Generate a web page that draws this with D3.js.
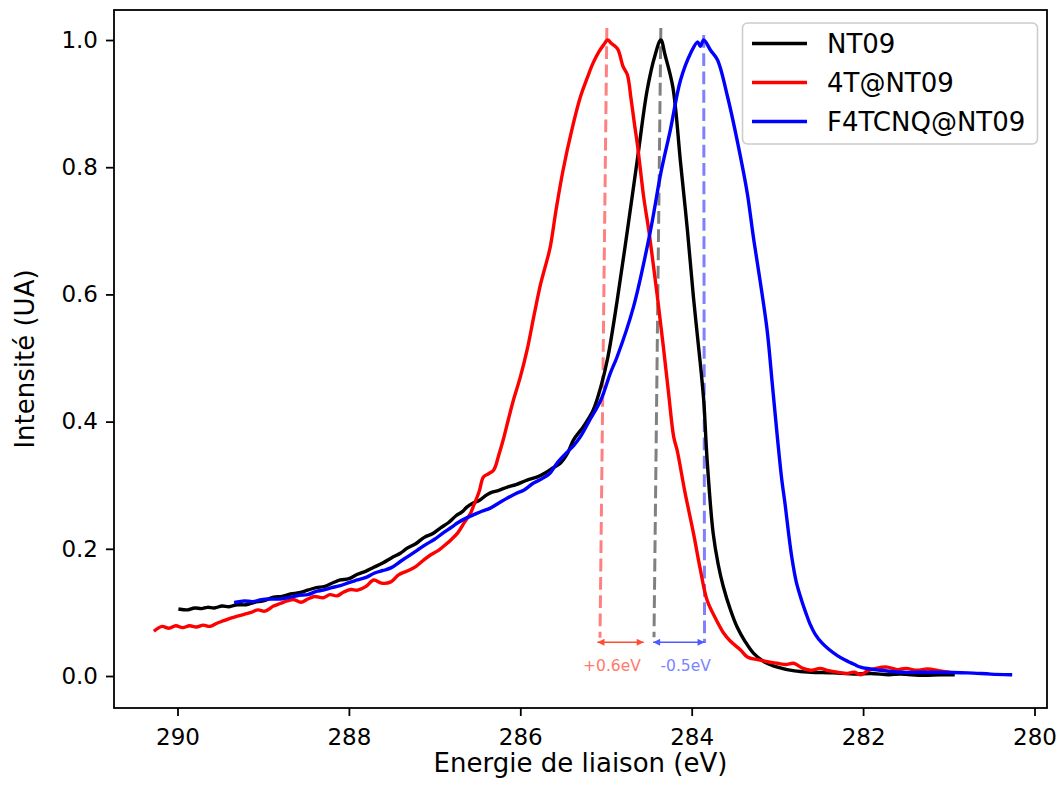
<!DOCTYPE html>
<html><head><meta charset="utf-8">
<script src="https://cdn.jsdelivr.net/npm/d3@7"></script>
<style>body{margin:0;background:#fff}text{font-family:"DejaVu Sans",sans-serif}</style>
</head><body><svg id="c" width="1062" height="789"></svg>
<script>
// ---- data ----
const xTicks = [290, 288, 286, 284, 282, 280];
const yTicks = [0.0, 0.2, 0.4, 0.6, 0.8, 1.0];
const seriesNames = ["NT09", "4T@NT09", "F4TCNQ@NT09"];
const seriesColors = ["#000000", "#ff0000", "#0000ff"];

const nt09E = [289.97,289.88,289.80,289.72,289.65,289.57,289.48,289.40,289.30,289.20,289.10,289.00,288.88,288.78,288.68,288.58,288.48,288.38,288.28,288.18,288.10,288.00,287.90,287.80,287.71,287.60,287.50,287.40,287.32,287.22,287.12,287.02,286.93,286.84,286.75,286.68,286.62,286.55,286.48,286.40,286.35,286.25,286.15,286.05,285.92,285.80,285.70,285.62,285.53,285.45,285.38,285.26,285.15,285.06,284.98,284.87,284.75,284.63,284.52,284.43,284.36,284.31,284.22,284.13,284.05,283.98,283.90,283.86,283.82,283.75,283.69,283.63,283.55,283.47,283.38,283.28,283.15,283.00,282.80,282.61,282.35,282.10,281.91,281.70,281.56,281.30,281.10,280.95];
const nt09I = [0.105,0.104,0.107,0.106,0.108,0.107,0.110,0.109,0.112,0.112,0.116,0.118,0.124,0.125,0.129,0.131,0.135,0.139,0.141,0.147,0.151,0.153,0.160,0.165,0.171,0.178,0.186,0.193,0.201,0.208,0.218,0.224,0.233,0.241,0.252,0.258,0.266,0.272,0.276,0.284,0.288,0.292,0.297,0.301,0.308,0.313,0.320,0.327,0.335,0.350,0.371,0.393,0.418,0.455,0.500,0.590,0.701,0.816,0.921,0.975,1.000,0.976,0.926,0.807,0.701,0.596,0.492,0.434,0.340,0.225,0.175,0.140,0.105,0.077,0.055,0.036,0.022,0.014,0.008,0.006,0.005,0.003,0.004,0.002,0.003,0.001,0.002,0.002];

const t4E = [290.26,290.18,290.10,290.02,289.94,289.86,289.78,289.70,289.62,289.54,289.46,289.38,289.30,289.22,289.14,289.06,288.98,288.88,288.80,288.72,288.64,288.56,288.48,288.40,288.30,288.22,288.14,288.06,287.98,287.90,287.80,287.71,287.62,287.51,287.42,287.32,287.22,287.13,287.04,286.95,286.86,286.81,286.73,286.65,286.58,286.55,286.48,286.43,286.37,286.31,286.25,286.20,286.14,286.08,286.00,285.92,285.84,285.76,285.70,285.65,285.58,285.50,285.40,285.30,285.22,285.15,285.08,285.03,284.98,284.94,284.91,284.86,284.80,284.75,284.71,284.67,284.63,284.56,284.50,284.45,284.39,284.33,284.27,284.21,284.17,284.08,283.98,283.90,283.82,283.72,283.63,283.55,283.43,283.35,283.20,283.10,283.00,282.90,282.81,282.70,282.61,282.50,282.42,282.30,282.20,282.10,282.03,281.95,281.85,281.72,281.60,281.50,281.37,281.25,281.10,281.00];
const t4I = [0.072,0.078,0.075,0.079,0.076,0.079,0.077,0.080,0.078,0.083,0.087,0.091,0.094,0.097,0.100,0.104,0.102,0.110,0.114,0.118,0.120,0.116,0.121,0.125,0.123,0.128,0.126,0.132,0.136,0.135,0.141,0.151,0.146,0.148,0.159,0.165,0.172,0.182,0.191,0.198,0.208,0.214,0.225,0.242,0.256,0.266,0.290,0.313,0.318,0.324,0.348,0.371,0.403,0.434,0.470,0.513,0.567,0.618,0.648,0.675,0.735,0.796,0.858,0.910,0.940,0.964,0.982,0.992,1.000,0.995,0.992,0.985,0.958,0.945,0.910,0.870,0.832,0.753,0.700,0.649,0.585,0.517,0.445,0.376,0.355,0.290,0.225,0.168,0.119,0.090,0.068,0.055,0.041,0.030,0.025,0.022,0.020,0.018,0.020,0.012,0.009,0.012,0.009,0.006,0.004,0.006,0.002,0.008,0.012,0.014,0.010,0.012,0.009,0.011,0.008,0.006];

const f4E = [289.32,289.22,289.12,289.02,288.92,288.80,288.68,288.58,288.48,288.38,288.30,288.20,288.10,288.00,287.90,287.80,287.70,287.60,287.51,287.40,287.30,287.20,287.10,287.00,286.90,286.80,286.73,286.62,286.52,286.45,286.35,286.25,286.15,286.05,285.96,285.85,285.75,285.66,285.57,285.46,285.38,285.30,285.20,285.06,284.95,284.87,284.68,284.48,284.36,284.25,284.13,284.01,283.93,283.90,283.86,283.78,283.70,283.58,283.43,283.35,283.28,283.20,283.12,283.06,283.00,282.95,282.91,282.87,282.83,282.78,282.72,282.67,282.62,282.56,282.48,282.40,282.30,282.21,282.10,282.03,281.80,281.56,281.21,280.78,280.51,280.28];
const f4I = [0.116,0.118,0.117,0.120,0.121,0.121,0.124,0.127,0.128,0.133,0.135,0.139,0.142,0.147,0.151,0.155,0.162,0.166,0.170,0.180,0.189,0.198,0.207,0.215,0.225,0.234,0.241,0.249,0.255,0.259,0.264,0.272,0.280,0.287,0.292,0.303,0.310,0.318,0.335,0.351,0.362,0.376,0.400,0.434,0.476,0.502,0.580,0.701,0.791,0.858,0.937,0.980,0.997,0.990,1.000,0.984,0.969,0.910,0.816,0.758,0.690,0.620,0.544,0.460,0.375,0.310,0.270,0.225,0.185,0.148,0.120,0.100,0.082,0.066,0.052,0.042,0.032,0.025,0.018,0.014,0.009,0.006,0.006,0.005,0.003,0.002];

// peak marker dashed lines [E_top, I_top, E_bottom, I_bottom]
const peakLines = [[284.99, 1.019, 285.07, 0.060], [284.36, 1.019, 284.44, 0.061], [283.86, 1.008, 283.85, 0.052]];
const peakColors = ["#ff8080", "#808080", "#8080ff"];
// shift arrows [E_from, E_to, I]
const shiftArrows = [[285.10, 284.56, 0.053], [284.45, 283.85, 0.053]];
const shiftLabels = ["+0.6eV", "-0.5eV"];
const shiftLabelE = [284.93, 284.07];
const shiftLabelI = 0.015;
const arrowColors = ["#ff4d33", "#4d5cff"];
const labelColors = ["#ff7a6a", "#7a85ff"];

// ---- chart ----
const L = 114, R = 1047, T = 10, B = 708;
const svg = d3.select("#c");
const x = d3.scaleLinear().domain([290.741, 279.854]).range([L, R]);
const y = d3.scaleLinear().domain([-0.0503, 1.0472]).range([B, T]);

const defs = svg.append("defs");
defs.append("clipPath").attr("id","clip").append("rect")
  .attr("x", L).attr("y", T).attr("width", R-L).attr("height", B-T);
arrowColors.forEach((c,i)=>{
  defs.append("marker").attr("id","ah"+i).attr("viewBox","0 0 10 10").attr("refX",10).attr("refY",5)
    .attr("markerWidth",9).attr("markerHeight",7).attr("markerUnits","userSpaceOnUse").attr("orient","auto-start-reverse")
    .append("path").attr("d","M0,0L10,5L0,10Z").attr("fill",c);
});

const g = svg.append("g").attr("clip-path","url(#clip)");

peakLines.forEach((p,i)=>{
  g.append("line").attr("x1",x(p[0])).attr("y1",y(p[1])).attr("x2",x(p[2])).attr("y2",y(p[3]))
   .attr("stroke",peakColors[i]).attr("stroke-width",3).attr("stroke-dasharray","12.8,5.5");
});

shiftArrows.forEach((a,i)=>{
  g.append("line").attr("x1",x(a[0])).attr("y1",y(a[2])).attr("x2",x(a[1])).attr("y2",y(a[2]))
   .attr("stroke",arrowColors[i]).attr("stroke-width",1.6)
   .attr("marker-start","url(#ah"+i+")").attr("marker-end","url(#ah"+i+")");
  g.append("text").attr("x",x(shiftLabelE[i])).attr("y",y(shiftLabelI)).attr("text-anchor","middle")
   .attr("dominant-baseline","middle").attr("font-size",15.5).attr("fill",labelColors[i]).text(shiftLabels[i]);
});

const line = d3.line().x(d=>x(d[0])).y(d=>y(d[1])).curve(d3.curveCatmullRom.alpha(0.5));
const series = [d3.zip(nt09E, nt09I), d3.zip(t4E, t4I), d3.zip(f4E, f4I)];
series.forEach((s,i)=>{
  g.append("path").datum(s).attr("d",line).attr("fill","none").attr("stroke",seriesColors[i])
   .attr("stroke-width",3.4).attr("stroke-linejoin","round").attr("stroke-linecap","square");
});

const xa = svg.append("g").attr("transform",`translate(0,${B})`)
  .call(d3.axisBottom(x).tickValues(xTicks).tickFormat(d3.format("d")).tickSize(8).tickPadding(13));
const ya = svg.append("g").attr("transform",`translate(${L},0)`)
  .call(d3.axisLeft(y).tickValues(yTicks).tickFormat(d3.format(".1f")).tickSize(8).tickPadding(8));
[xa,ya].forEach(a=>{
  a.select(".domain").remove();
  a.selectAll(".tick line").attr("stroke","#000").attr("stroke-width",1.8);
  a.selectAll(".tick text").attr("font-size",23).attr("fill","#000").attr("font-family","DejaVu Sans");
});
svg.append("rect").attr("x",L).attr("y",T).attr("width",R-L).attr("height",B-T)
  .attr("fill","none").attr("stroke","#000").attr("stroke-width",1.8);

svg.append("text").attr("x",(L+R)/2).attr("y",772).attr("text-anchor","middle").attr("font-size",26)
  .attr("fill","#000").text("Energie de liaison (eV)");
svg.append("text").attr("transform","translate(34,359) rotate(-90)").attr("text-anchor","middle").attr("font-size",26)
  .attr("fill","#000").text("Intensité (UA)");

const lg = svg.append("g");
lg.append("rect").attr("x",742.5).attr("y",23).attr("width",295).attr("height",121).attr("rx",5)
  .attr("fill","#fff").attr("fill-opacity",0.8).attr("stroke","#cccccc").attr("stroke-width",1.6);
seriesNames.forEach((n,i)=>{
  const yy = 43.5 + i*39;
  lg.append("line").attr("x1",752).attr("x2",807).attr("y1",yy).attr("y2",yy).attr("stroke",seriesColors[i]).attr("stroke-width",3.4);
  lg.append("text").attr("x",827).attr("y",yy).attr("dominant-baseline","central").attr("font-size",26).attr("fill","#000").text(n);
});
</script></body></html>
